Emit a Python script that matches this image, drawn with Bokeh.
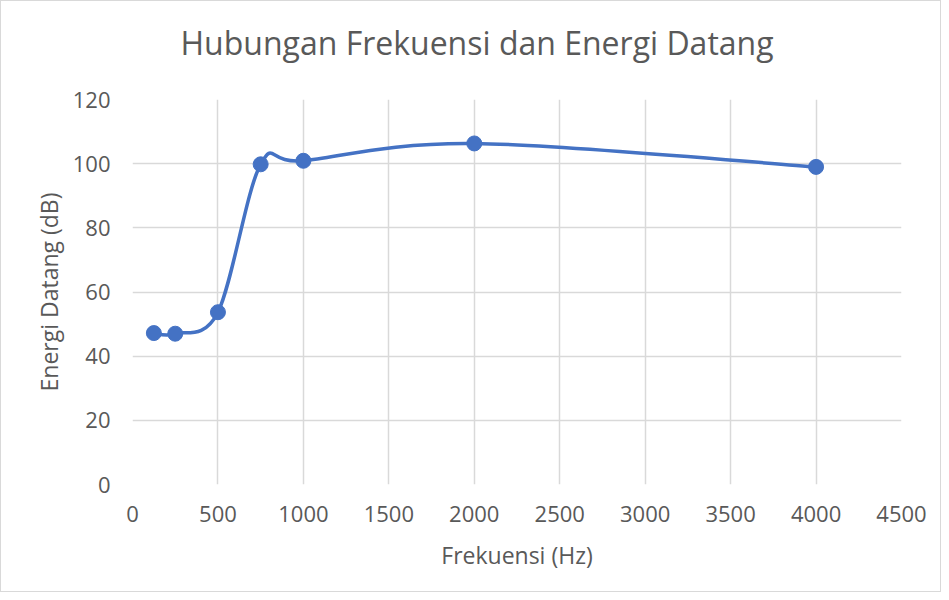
from bokeh.plotting import figure
from bokeh.models import Range1d, FixedTicker
from bokeh.embed import file_html
from bokeh.resources import INLINE

freq = [125, 250, 500, 750, 1000, 2000, 4000]
energy = [47.2, 47.0, 53.7, 99.8, 100.9, 106.3, 99.0]
x_ticks = [0, 500, 1000, 1500, 2000, 2500, 3000, 3500, 4000, 4500]
y_ticks = [0, 20, 40, 60, 80, 100, 120]
title_text = "Hubungan Frekuensi dan Energi Datang"

FONT = "Open Sans"
GRAY = "#595959"
BLUE = "#4472c4"

p = figure(width=941, height=592, output_backend="svg", toolbar_location=None,
           x_range=Range1d(0, 4500), y_range=Range1d(0, 120),
           min_border_left=131, min_border_right=41, min_border_top=98, min_border_bottom=109)
p.outline_line_color = None
p.background_fill_color = "white"
p.border_fill_color = "white"

# a trailing empty line lifts the visible title line higher in its panel
p.title.text = title_text + "\n"
p.title.text_font = FONT
p.title.text_font_size = "32px"
p.title.text_font_style = "normal"
p.title.text_color = GRAY
p.title.text_line_height = 0.4
p.title.align = "left"
p.title.offset = 48
p.title.standoff = 36

for ax in (p.xaxis[0], p.yaxis[0]):
    ax.axis_line_color = None
    ax.major_tick_line_color = None
    ax.minor_tick_line_color = None
    ax.major_tick_out = 0
    ax.major_tick_in = 0
    ax.major_label_text_font = FONT
    ax.major_label_text_color = GRAY
    ax.major_label_text_font_size = "22px"
    ax.axis_label_text_font = FONT
    ax.axis_label_text_color = GRAY
    ax.axis_label_text_font_size = "23px"
    ax.axis_label_text_font_style = "normal"

p.xaxis.ticker = FixedTicker(ticks=x_ticks)
p.yaxis.ticker = FixedTicker(ticks=y_ticks)
p.xaxis.major_label_standoff = 21
p.yaxis.major_label_standoff = 22
p.xaxis.axis_label = "Frekuensi (Hz)"
p.yaxis.axis_label = "Energi Datang (dB)"
p.xaxis.axis_label_standoff = 14
p.yaxis.axis_label_standoff = 5

p.xgrid.ticker = FixedTicker(ticks=x_ticks)
p.ygrid.ticker = FixedTicker(ticks=y_ticks)
for g in (p.xgrid[0], p.ygrid[0]):
    g.grid_line_color = "#d9d9d9"
    g.grid_line_width = 1.5

# smoothed line (Catmull-Rom style bezier segments through the data points)
n = len(freq)
x0, y0, x1, y1, cx0, cy0, cx1, cy1 = [], [], [], [], [], [], [], []
for i in range(n - 1):
    pm = max(i - 1, 0)
    pp = min(i + 2, n - 1)
    x0.append(freq[i]); y0.append(energy[i])
    x1.append(freq[i + 1]); y1.append(energy[i + 1])
    cx0.append(freq[i] + (freq[i + 1] - freq[pm]) / 6)
    cy0.append(energy[i] + (energy[i + 1] - energy[pm]) / 6)
    cx1.append(freq[i + 1] - (freq[pp] - freq[i]) / 6)
    cy1.append(energy[i + 1] - (energy[pp] - energy[i]) / 6)
p.bezier(x0=x0, y0=y0, x1=x1, y1=y1, cx0=cx0, cy0=cy0, cx1=cx1, cy1=cy1,
         line_color=BLUE, line_width=3.5)
p.scatter(freq, energy, size=15, fill_color=BLUE, line_color=BLUE)

p.styles = {"border": "1px solid #d9d9d9", "box-sizing": "border-box"}

open("out.html", "w").write(file_html(p, INLINE))
